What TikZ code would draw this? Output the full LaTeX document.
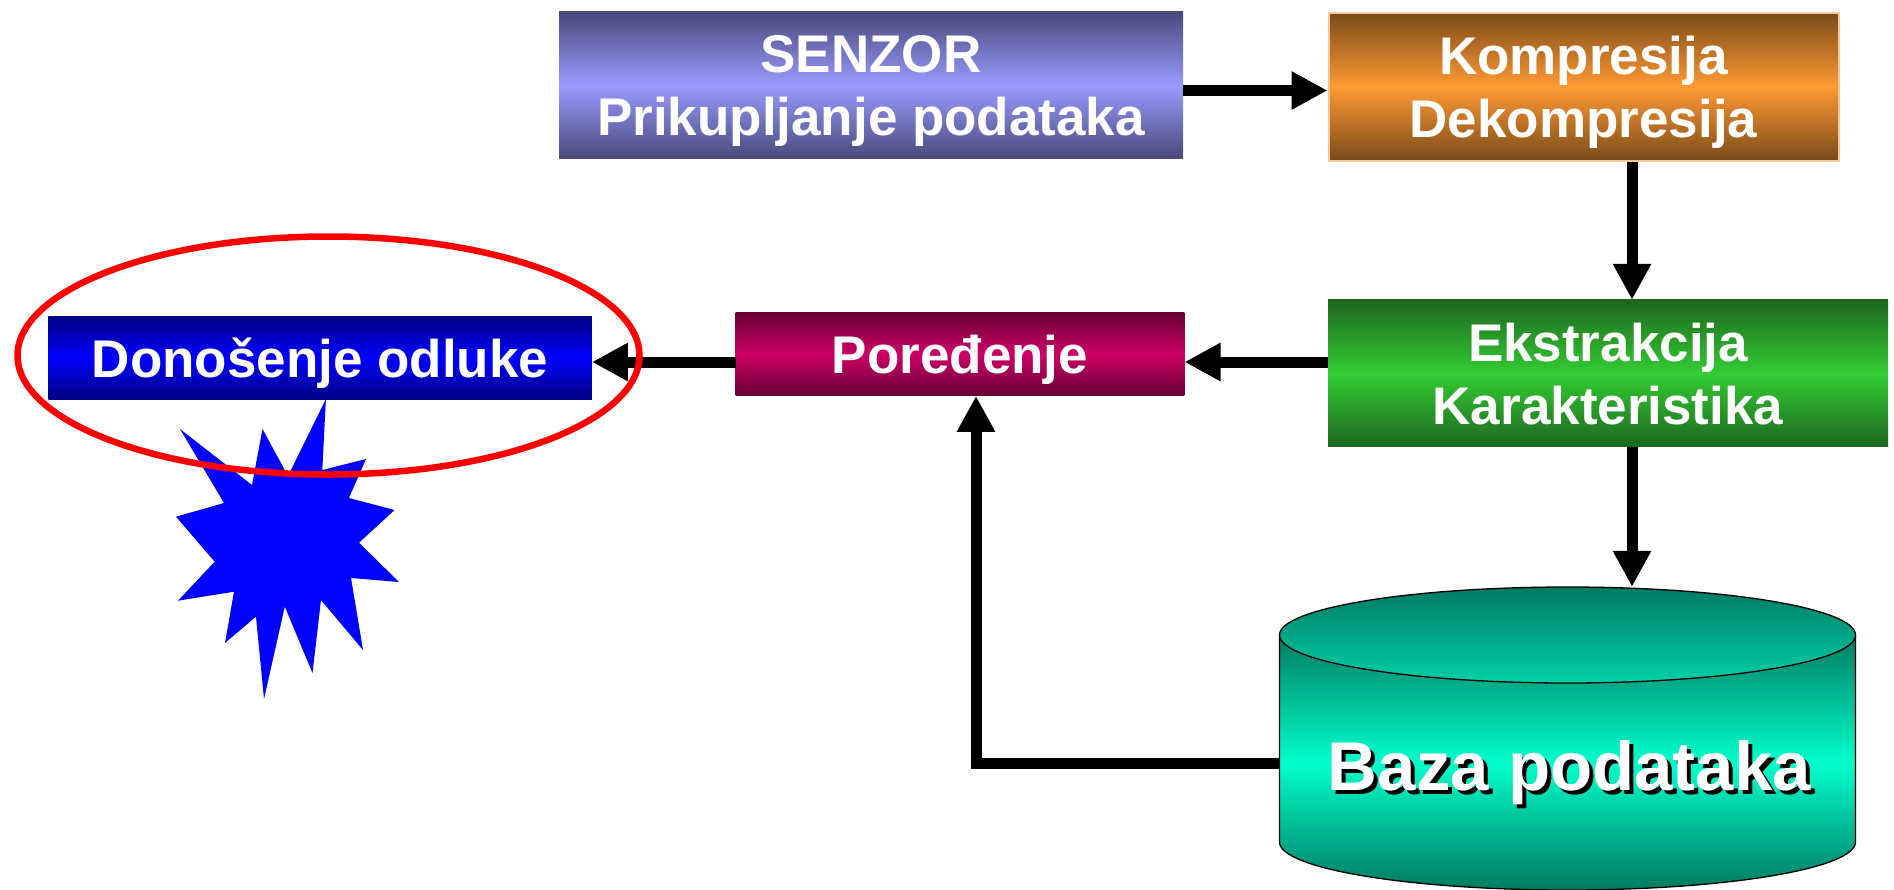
\documentclass[tikz,border=0pt]{standalone}
\usepackage{fontspec}
\setmainfont{Liberation Sans}
\usetikzlibrary{arrows.meta}
\definecolor{senzD}{HTML}{474A7A}
\definecolor{senzL}{HTML}{9A9AFF}
\definecolor{kompD}{HTML}{7A4A1A}
\definecolor{kompL}{HTML}{FF9A33}
\definecolor{kompB}{HTML}{F8C898}
\definecolor{ekstD}{HTML}{1E661E}
\definecolor{ekstL}{HTML}{33CC33}
\definecolor{porD}{HTML}{660033}
\definecolor{porL}{HTML}{CC0066}
\definecolor{donD}{HTML}{000080}
\definecolor{donL}{HTML}{0000FF}
\definecolor{dbD}{HTML}{007A60}
\definecolor{dbL}{HTML}{00FFCC}
\definecolor{dbTop}{HTML}{007A63}
\definecolor{dbTopL}{HTML}{00D0A8}
\definecolor{ringred}{HTML}{FF0000}
\definecolor{starblue}{HTML}{0000FF}
\newcommand{\shadowtext}[1]{\makebox[0pt][l]{\hspace{4pt}\raisebox{-4pt}{\textcolor{black}{#1}}}#1}
\begin{document}
\begin{tikzpicture}[x=1pt,y=-1pt,
  box/.style={inner sep=0pt, align=center, text=white,
    font=\fontsize{53}{63}\selectfont\bfseries, text depth=0pt},
  conn/.style={line width=11pt, -{Triangle[length=36pt,width=36pt]}},
  dbtxt/.style={inner sep=0pt, anchor=base, text=white,
    font=\fontsize{69}{80}\selectfont\bfseries},
  shade3/.style n args={2}{top color=#1, bottom color=#1, middle color=#2}
]
\useasboundingbox (0,0) rectangle (1894,889);

% star
\fill[starblue] (325.9,399) -- (322.3,470) -- (366,459) -- (349,498) -- (394.6,510)
  -- (359,542.7) -- (399,582) -- (351,578) -- (363,650) -- (321,600) -- (312.5,673)
  -- (284.8,606.7) -- (264,699) -- (256,616.7) -- (225,643) -- (234,591.7)
  -- (178,600.7) -- (214.7,561.7) -- (176,516.7) -- (224,503) -- (180,429)
  -- (252,485) -- (262.5,429) -- (288,476) -- cycle;

% boxes
\node[box, shade3={senzD}{senzL}, minimum width=624pt, minimum height=146.7pt]
  (senzor) at (871,85.3) {SENZOR\\Prikupljanje podataka};
\node[box, shade3={kompD}{kompL}, draw=kompB, line width=2pt,
  minimum width=510pt, minimum height=148pt]
  (komp) at (1583.5,86.8) {Kompresija\\Dekompresija};
\node[box, shade3={ekstD}{ekstL}, minimum width=560pt, minimum height=146.7pt]
  (ekstr) at (1608,373.3) {Ekstrakcija\\Karakteristika};
\node[box, shade3={porD}{porL}, minimum width=448.6pt, minimum height=83.4pt]
  (por) at (960,354) {Pore\dj enje};
\node[box, shade3={donD}{donL}, minimum width=543.5pt, minimum height=83pt]
  (don) at (320,357.5) {Dono\v senje odluke};

% database cylinder
\node[inner sep=0pt, minimum width=576pt, minimum height=303pt] (db) at (1567.5,738.5) {};
\fill[shade3={dbD}{dbL}] (1279.5,635) -- (1279.5,842)
  arc[start angle=180, end angle=360, x radius=288pt, y radius=48pt]
  -- (1855.5,635) -- cycle;
\draw[line width=1.3pt] (1279.5,635) -- (1279.5,842)
  arc[start angle=180, end angle=360, x radius=288pt, y radius=48pt]
  -- (1855.5,635);
\draw[line width=1.3pt, top color=dbTop, bottom color=dbTopL]
  (1567.5,635) ellipse [x radius=288pt, y radius=48pt];
\node[dbtxt] (dbtext) at (1569.5,790) {\shadowtext{Baza podataka}};

% helper coordinates
\coordinate (rowA) at (0,90.5);
\coordinate (rowB) at (0,362);
\coordinate (colA) at (1632,0);
\coordinate (fb) at (976,763);

% connectors
\draw[conn] (senzor.east |- rowA) -- (komp.west |- rowA);
\draw[conn] (komp.south -| colA) -- (ekstr.north -| colA);
\draw[conn] (ekstr.south -| colA) -- (db.north -| colA);
\draw[conn] (ekstr.west |- rowB) -- (por.east |- rowB);
\draw[conn] (por.west |- rowB) -- (don.east |- rowB);
\draw[conn] (db.west |- fb) -- (fb) -- (fb |- por.south);

% red ring
\draw[ringred, line width=6.5pt] (328.5,355.5) ellipse [x radius=311pt, y radius=119pt];
\end{tikzpicture}
\end{document}
